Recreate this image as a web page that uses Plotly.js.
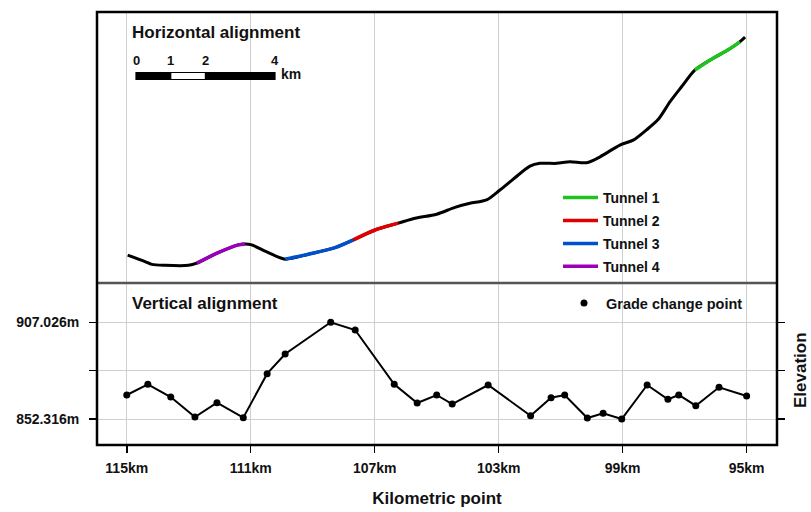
<!DOCTYPE html>
<html>
<head>
<meta charset="utf-8">
<script src="https://cdn.plot.ly/plotly-3.0.1.min.js"></script>
<style>html,body{margin:0;padding:0;background:#fff}#chart{width:811px;height:512px}</style>
</head>
<body>
<div id="chart"></div>
<script>
// ---- Data ----
const kmTicks = [115, 111, 107, 103, 99, 95];
const kmTickLabels = ['115km', '111km', '107km', '103km', '99km', '95km'];

// Horizontal alignment (plan view): kilometric position vs northing
const alignKm = [114.97, 114.41, 114.19, 113.76, 113.01, 112.74, 112.05, 111.40, 111.18, 110.97,
  110.43, 109.89, 109.14, 108.28, 107.69, 106.99, 106.24, 105.70, 105.00, 104.41,
  103.93, 103.39, 102.96, 102.53, 101.99, 101.67, 101.13, 100.70, 100.16, 99.73,
  99.09, 98.66, 98.23, 97.85, 97.47, 97.10, 96.67, 96.08, 95.65, 95.22, 95.05];
const alignNorth = [0.90, 0.69, 0.60, 0.57, 0.57, 0.64, 0.98, 1.23, 1.26, 1.23,
  0.98, 0.77, 0.93, 1.14, 1.39, 1.71, 1.93, 2.09, 2.22, 2.44,
  2.57, 2.68, 3.00, 3.35, 3.77, 3.86, 3.86, 3.91, 3.88, 4.07,
  4.45, 4.61, 4.94, 5.28, 5.85, 6.33, 6.87, 7.25, 7.49, 7.78, 7.93];

// Tunnels: index ranges into the alignment arrays
const tunnelNames = ['Tunnel 1', 'Tunnel 2', 'Tunnel 3', 'Tunnel 4'];
const tunnelColors = ['#1ec31e', '#e00000', '#0050cc', '#9a00b8'];
const tunnelStart = [36, 14, 11, 5];
const tunnelEnd = [39, 16, 14, 8];

// Vertical alignment: grade change points
const gradeKm = [115.00, 114.32, 113.58, 112.80, 112.09, 111.24, 110.47, 109.89, 108.42, 107.63,
  106.37, 105.63, 105.00, 104.50, 103.34, 101.97, 101.31, 100.87, 100.14, 99.63,
  99.03, 98.21, 97.54, 97.19, 96.64, 95.89, 95.00];
const gradeElev = [865.90, 871.95, 864.76, 853.45, 861.54, 853.05, 877.95, 889.09, 907.026, 902.67,
  871.95, 861.37, 865.90, 860.80, 871.55, 854.18, 864.37, 865.90, 852.88, 855.54,
  852.316, 871.55, 863.46, 865.90, 859.84, 870.25, 865.33];

const elevTicks = [852.316, 879.671, 907.026];
const elevTickLabels = ['852.316m', '', '907.026m'];

const scaleBarKm = [0, 1, 2, 4];

// ---- Layout constants ----
const FONT = 'Liberation Sans, Arial, sans-serif';
const splitY = 162 / 433;
const traces = [];

traces.push({
  x: alignKm, y: alignNorth, xaxis: 'x2', yaxis: 'y2', mode: 'lines',
  line: {color: '#000', width: 3, shape: 'spline', smoothing: 0.8},
  showlegend: false, hoverinfo: 'skip'
});
for (let i = 0; i < tunnelNames.length; i++) {
  traces.push({
    x: alignKm.slice(tunnelStart[i], tunnelEnd[i] + 1),
    y: alignNorth.slice(tunnelStart[i], tunnelEnd[i] + 1),
    xaxis: 'x2', yaxis: 'y2', mode: 'lines', name: tunnelNames[i],
    legendgroup: 'g' + i,
    line: {color: tunnelColors[i], width: 3.5, shape: 'spline', smoothing: 0.8},
    legend: 'legend'
  });
}
traces.push({
  x: gradeKm, y: gradeElev, xaxis: 'x', yaxis: 'y', mode: 'lines',
  line: {color: '#000', width: 2}, showlegend: false, hoverinfo: 'skip'
});
traces.push({
  x: gradeKm, y: gradeElev, xaxis: 'x', yaxis: 'y', mode: 'markers',
  name: 'Grade change point', marker: {color: '#000', size: 7},
  legend: 'legend2'
});

// Scale bar shapes / labels (paper coordinates)
const sbX0 = (136 - 97) / 680, sbPx = 34.75 / 680;
const sbY = 1 - (76 - 12) / 433, sbH = 3.5 / 433;
const shapes = [];
for (let i = 0; i < scaleBarKm.length - 1; i++) {
  shapes.push({
    type: 'rect', xref: 'paper', yref: 'paper', layer: 'above',
    x0: sbX0 + scaleBarKm[i] * sbPx, x1: sbX0 + scaleBarKm[i + 1] * sbPx,
    y0: sbY - sbH, y1: sbY + sbH,
    fillcolor: i % 2 === 0 ? '#000' : '#fff', line: {color: '#000', width: 1.2}
  });
}
// frame + separator
shapes.push({type: 'line', xref: 'paper', yref: 'paper', layer: 'above', x0: 0, x1: 1, y0: splitY, y1: splitY, line: {color: '#555', width: 2.5}});
shapes.push({type: 'rect', xref: 'paper', yref: 'paper', layer: 'above', x0: 0, x1: 1, y0: 0, y1: 1, line: {color: '#000', width: 2.5}});

const annotations = [
  {text: 'Horizontal alignment', xref: 'paper', yref: 'paper', x: (130 - 97) / 680, y: 1 - (32 - 12) / 433,
   xanchor: 'left', yanchor: 'middle', showarrow: false, font: {family: FONT, size: 17, weight: 'bold', color: '#111'}},
  {text: 'Vertical alignment', xref: 'paper', yref: 'paper', x: (130 - 97) / 680, y: 1 - (303 - 12) / 433,
   xanchor: 'left', yanchor: 'middle', showarrow: false, font: {family: FONT, size: 17, weight: 'bold', color: '#111'}},
  {text: 'Elevation', xref: 'paper', yref: 'paper', x: (800 - 97) / 680, y: 1 - (370 - 12) / 433, textangle: -90,
   xanchor: 'center', yanchor: 'middle', showarrow: false, font: {family: FONT, size: 17, weight: 'bold', color: '#111'}},
  {text: 'km', xref: 'paper', yref: 'paper', x: sbX0 + 4 * sbPx + 4 / 680, y: 1 - (74 - 12) / 433,
   xanchor: 'left', yanchor: 'middle', showarrow: false, font: {family: FONT, size: 14, weight: 'bold', color: '#111'}}
];
scaleBarKm.forEach(v => annotations.push({
  text: String(v), xref: 'paper', yref: 'paper', x: sbX0 + v * sbPx, y: 1 - (61 - 12) / 433,
  xanchor: 'center', yanchor: 'middle', showarrow: false, font: {family: FONT, size: 13, weight: 'bold', color: '#111'}
}));

const layout = {
  width: 811, height: 512,
  margin: {l: 97, r: 34, t: 12, b: 67},
  paper_bgcolor: '#fff', plot_bgcolor: '#fff',
  font: {family: FONT, color: '#111'},
  xaxis: {
    domain: [0, 1], anchor: 'y', range: [115.96, 94.02],
    tickvals: kmTicks, ticktext: kmTickLabels, ticks: 'outside', ticklen: 7, tickwidth: 1.5, tickcolor: '#000',
    ticklabelstandoff: 3,
    showgrid: true, gridcolor: '#cfcfcf', gridwidth: 1, zeroline: false, showline: false,
    tickfont: {family: FONT, size: 14, weight: 'bold', color: '#111'},
    title: {text: 'Kilometric point', standoff: 17, font: {family: FONT, size: 17, weight: 'bold', color: '#111'}}
  },
  yaxis: {
    domain: [0, splitY], anchor: 'x', range: [837.61, 929.26],
    tickvals: elevTicks, ticktext: elevTickLabels, ticks: 'outside', ticklen: 7, tickwidth: 1.5, tickcolor: '#000',
    mirror: 'ticks', showline: false, ticklabelstandoff: 7,
    showgrid: true, gridcolor: '#cfcfcf', gridwidth: 1, zeroline: false,
    tickfont: {family: FONT, size: 14, weight: 'bold', color: '#111'}
  },
  xaxis2: {
    domain: [0, 1], anchor: 'y2', matches: 'x', range: [115.96, 94.02],
    tickvals: kmTicks, showticklabels: false, ticks: '',
    showgrid: true, gridcolor: '#cfcfcf', gridwidth: 1, zeroline: false, showline: false
  },
  yaxis2: {
    domain: [splitY, 1], anchor: 'x2', range: [0, 8.742],
    showticklabels: false, ticks: '', showgrid: false, zeroline: false, showline: false
  },
  legend: {
    x: (558 - 97) / 680, xanchor: 'left', y: 1 - (182 - 12) / 433, yanchor: 'top',
    bgcolor: 'rgba(0,0,0,0)', borderwidth: 0, traceorder: 'grouped', tracegroupgap: 1.7,
    itemwidth: 35,
    font: {family: FONT, size: 14, weight: 'bold', color: '#111'}
  },
  legend2: {
    x: (562 - 97) / 680, xanchor: 'left', y: 1 - (287 - 12) / 433, yanchor: 'top',
    bgcolor: 'rgba(0,0,0,0)', borderwidth: 0, itemwidth: 34,
    font: {family: FONT, size: 14.5, weight: 'bold', color: '#111'}
  },
  shapes: shapes,
  annotations: annotations,
  showlegend: true
};

Plotly.newPlot('chart', traces, layout, {displayModeBar: false, staticPlot: true});
</script>
</body>
</html>
